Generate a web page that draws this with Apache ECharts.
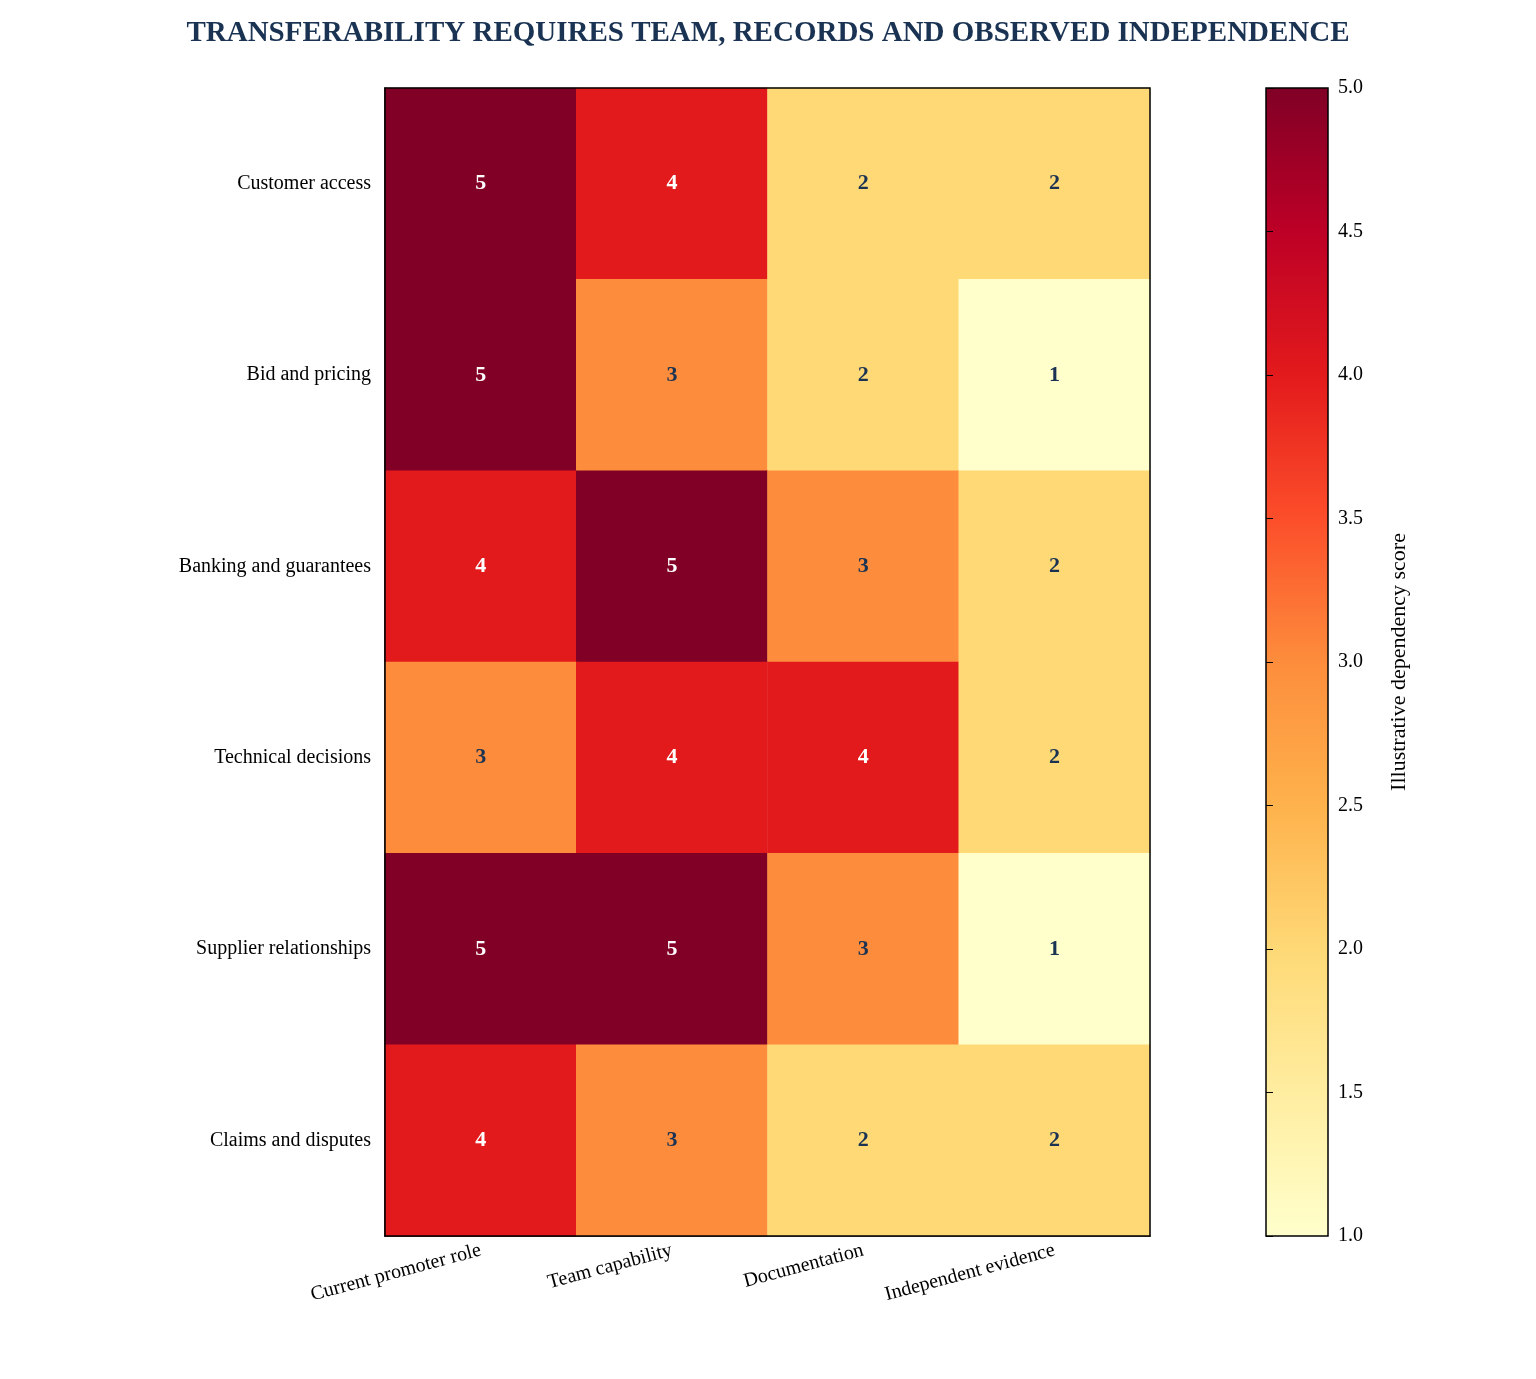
<!DOCTYPE html>
<html><head><meta charset="utf-8">
<script src="https://cdn.jsdelivr.net/npm/echarts@6/dist/echarts.min.js"></script>
<style>html,body{margin:0;background:#fff}#c{width:1536px;height:1379px}</style>
</head><body><div id="c"></div>
<script>
const rows = ["Customer access","Bid and pricing","Banking and guarantees","Technical decisions","Supplier relationships","Claims and disputes"];
const cols = ["Current promoter role","Team capability","Documentation","Independent evidence"];
const values = [
  [5,4,2,2],
  [5,3,2,1],
  [4,5,3,2],
  [3,4,4,2],
  [5,5,3,1],
  [4,3,2,2]
];
const cbTicks = [1,1.5,2,2.5,3,3.5,4,4.5,5];
const palette = ['#ffffcc','#ffeda0','#fed976','#feb24c','#fd8d3c','#fc4e2a','#e31a1c','#bd0026','#800026'];
const data = [];
values.forEach((r,i)=>r.forEach((v,j)=>data.push([j,i,v])));
const font = 'Liberation Serif, DejaVu Serif, serif';
const chart = echarts.init(document.getElementById('c'));
const G = {l:385,t:88,w:765,h:1148}, CB = {l:1266,t:88,w:62,h:1148};
chart.setOption({
  backgroundColor:'#fff',
  textStyle:{fontFamily:font},
  title:{text:'TRANSFERABILITY REQUIRES TEAM, RECORDS AND OBSERVED INDEPENDENCE',left:'center',top:14,
    textStyle:{fontFamily:font,fontSize:29,fontWeight:'bold',color:'#1a3353'}},
  grid:[{left:G.l,top:G.t,width:G.w,height:G.h},{left:CB.l,top:CB.t,width:CB.w,height:CB.h}],
  xAxis:[{type:'category',data:cols,gridIndex:0,splitArea:{show:false},
    axisLine:{lineStyle:{color:'#000',width:1.5}},axisTick:{alignWithLabel:true,length:7,lineStyle:{color:'#000'}},
    axisLabel:{rotate:15,color:'#000',fontSize:20,fontFamily:font,margin:14,interval:0}},
    {type:'value',gridIndex:1,show:false,min:0,max:1}],
  yAxis:[{type:'category',data:rows,inverse:true,gridIndex:0,
    axisLine:{lineStyle:{color:'#000',width:1.5}},axisTick:{alignWithLabel:true,length:7,lineStyle:{color:'#000'}},
    axisLabel:{color:'#000',fontSize:20,fontFamily:font,margin:14}},
    {type:'value',gridIndex:1,min:1,max:5,interval:0.5,position:'right',
    axisLine:{show:false},splitLine:{show:false},
    axisTick:{show:true,length:7,lineStyle:{color:'#000'}},
    axisLabel:{color:'#000',fontSize:20,fontFamily:font,margin:10,formatter:v=>v.toFixed(1)},
    name:'Illustrative dependency score',nameLocation:'middle',nameGap:60,nameRotate:90,
    nameTextStyle:{fontSize:22,color:'#000',fontFamily:font}}],
  visualMap:{show:false,min:1,max:5,seriesIndex:0,inRange:{color:palette}},
  series:[{type:'heatmap',data:data,xAxisIndex:0,yAxisIndex:0,
    label:{show:true,fontSize:22,fontWeight:'bold',fontFamily:font,
      formatter:p=>String(p.value[2]),
      rich:{}},
    itemStyle:{borderWidth:0}}],
  graphic:[
    {type:'rect',shape:{x:CB.l,y:CB.t,width:CB.w,height:CB.h},z:-1,
      style:{fill:new echarts.graphic.LinearGradient(0,1,0,0,palette.map((c,i)=>({offset:i/(palette.length-1),color:c}))),
      stroke:'#000',lineWidth:1.5}},
    {type:'rect',shape:{x:G.l,y:G.t,width:G.w,height:G.h},z:100,silent:true,
      style:{fill:'none',stroke:'#000',lineWidth:1.5}}
  ]
});
// label colours per value
chart.setOption({series:[{data:data.map(d=>({value:d,label:{color:d[2]>=4?'#ffffff':'#1a3353'}}))}]});
</script></body></html>
